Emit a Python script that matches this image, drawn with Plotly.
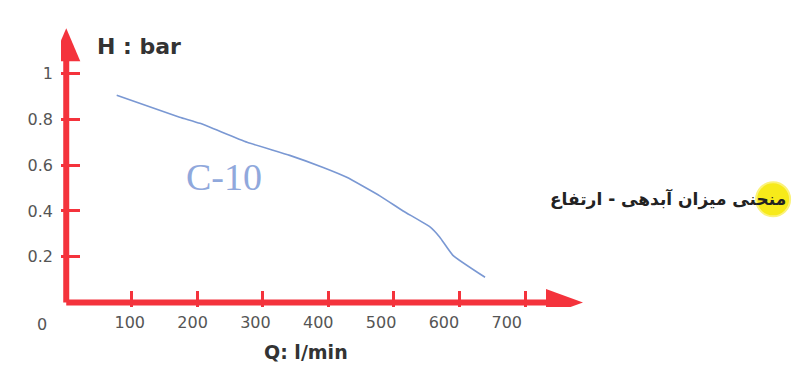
import plotly.graph_objects as go

# ---- data ----
flow_lpm = [77, 173, 204, 276, 341, 392, 428, 479, 514, 555, 570, 590, 639]
head_bar = [0.906, 0.81, 0.783, 0.70, 0.643, 0.59, 0.547, 0.465, 0.40, 0.33, 0.285, 0.206, 0.11]
x_ticks = [100, 200, 300, 400, 500, 600, 700]
y_ticks = [0.2, 0.4, 0.6, 0.8, 1]
y_tick_text = ["0.2", "0.4", "0.6", "0.8", "1"]
series_name = "C-10"

RED = "#f4333c"
OFF = 8  # page body margin
W, H = 800 - OFF, 373 - OFF
# plot area in page pixels
PL, PR, PT, PB = 61.26, 584.0, 27.8, 306.57
ML, MR, MT, MB = PL - OFF, (W + OFF) - PR, PT - OFF, (H + OFF) - PB
XR = [-8, 790]
YR = [-0.02, 1.2]
PW = PR - PL
PH = PB - PT

def px(xp):
    return (xp - PL) / PW

def py(yp):
    return 1 - (yp - PT) / PH

fig = go.Figure()
fig.add_trace(go.Scatter(x=flow_lpm, y=head_bar, mode="lines",
                         line=dict(color="#7a98d3", width=1.6, shape="spline", smoothing=0.4),
                         showlegend=False, hoverinfo="skip"))
fig.add_trace(go.Scatter(x=[None], y=[None], xaxis="x2", showlegend=False))

# axis lines
fig.add_shape(type="line", x0=0, x1=735, y0=0, y1=0, line=dict(color=RED, width=6), layer="above")
fig.add_shape(type="line", x0=0, x1=0, y0=0, y1=1.06, line=dict(color=RED, width=6), layer="above")
# arrowheads
fig.add_shape(type="path", path="M 732,-0.059 L 788.5,0 L 732,0.059 Z",
              fillcolor=RED, line=dict(color=RED, width=0), layer="above")
fig.add_shape(type="path", path="M -21.4,1.055 L 0,1.199 L 21.4,1.055 Z",
              fillcolor=RED, line=dict(color=RED, width=0), layer="above")

# yellow highlight
cx, cy, r = 773, 199, 17
fig.add_shape(type="circle", xref="paper", yref="paper",
              x0=px(cx - r), x1=px(cx + r), y0=py(cy + r), y1=py(cy - r),
              fillcolor="#f7ea1a", line=dict(color="#fbf27a", width=2), layer="below")

fig.update_layout(
    width=W, height=H, margin=dict(l=ML, r=MR, t=MT, b=MB, autoexpand=False),
    paper_bgcolor="white", plot_bgcolor="white",
    xaxis=dict(range=XR, tickvals=x_ticks, ticktext=[""] * len(x_ticks),
               ticks="inside", ticklen=16, tickwidth=3, tickcolor=RED,
               showgrid=False, zeroline=False, showline=False, fixedrange=True),
    xaxis2=dict(range=[-9.46, 823], overlaying="x", side="bottom",
                tickvals=x_ticks, ticktext=[str(v) for v in x_ticks],
                ticks="", showgrid=False, zeroline=False, showline=False,
                ticklabelstandoff=4,
                tickfont=dict(family="DejaVu Sans", size=16, color="#555555")),
    yaxis=dict(range=YR, tickvals=y_ticks, ticktext=y_tick_text,
               ticks="inside", ticklen=19, tickwidth=3, tickcolor=RED,
               showgrid=False, zeroline=False, showline=False,
               ticklabelstandoff=7,
               tickfont=dict(family="DejaVu Sans", size=16, color="#555555")),
)

def note(xp, yp, text, size, color, family="DejaVu Sans", xanchor="center"):
    fig.add_annotation(xref="paper", yref="paper", x=px(xp), y=py(yp), text=text,
                       xanchor=xanchor, yanchor="middle", showarrow=False,
                       font=dict(family=family, size=size, color=color))

note(42, 324, "0", 16, "#555555")
note(139, 46, "<b>H : bar</b>", 22, "#333333")
note(306, 352, "<b>Q: l/min</b>", 19, "#333333")
note(224, 177, series_name, 38, "#90a8dc", family="Liberation Serif")
note(788, 199, "<b>منحنی میزان آبدهی - ارتفاع</b>", 17, "#222222", xanchor="right")

fig.write_html("out.html")
